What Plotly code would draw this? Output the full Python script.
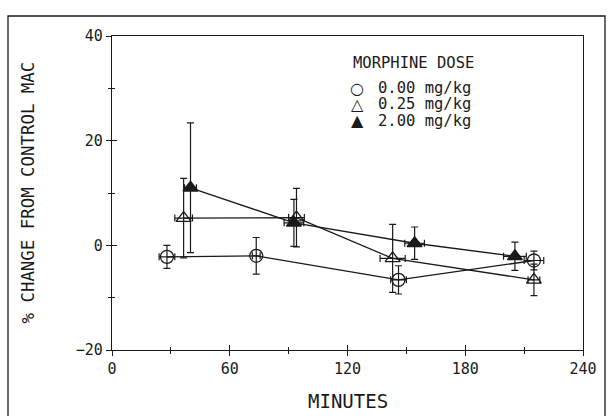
import plotly.graph_objects as go

# ---- data ----
minutes_0 = [28.0, 73.5, 146.0, 215.0]
mac_0 = [-2.2, -2.0, -6.6, -2.9]
sdy_0 = [2.2, 3.5, 2.7, 1.8]
sdx_0 = [4.0, 2.0, 4.0, 5.0]

minutes_025 = [36.5, 94.0, 143.0, 215.0]
mac_025 = [5.2, 5.3, -2.5, -6.6]
sdy_025 = [7.6, 5.6, 6.5, 3.0]
sdx_025 = [4.5, 4.0, 6.4, 3.0]

minutes_2 = [40.0, 92.7, 154.2, 205.3]
mac_2 = [11.0, 4.3, 0.4, -2.1]
sdy_2 = [12.4, 4.5, 3.1, 2.7]
sdx_2 = [3.0, 5.0, 5.0, 5.8]

legend_title = "MORPHINE DOSE"
legend_labels = ["0.00 mg/kg", "0.25 mg/kg", "2.00 mg/kg"]
legend_glyphs = ["\u25CB", "\u25B3", "\u25B2"]

x_ticks = [0, 60, 120, 180, 240]
y_ticks = [-20, 0, 20, 40]

INK = "#1a1a1a"
FONT = "DejaVu Sans Mono"

def series(x, y, ex, ey, symbol, size):
    return go.Scatter(
        x=x, y=y, mode="lines+markers",
        line=dict(color=INK, width=1.3),
        marker=dict(symbol=symbol, size=size, color=INK,
                    line=dict(color=INK, width=1.3)),
        error_y=dict(type="data", array=ey, color=INK, thickness=1.2, width=3.5),
        error_x=dict(type="data", array=ex, color=INK, thickness=1.2, width=3.5),
        showlegend=False, hoverinfo="skip",
    )

fig = go.Figure()
fig.add_trace(series(minutes_0, mac_0, sdx_0, sdy_0, "circle-open", 13))
fig.add_trace(series(minutes_025, mac_025, sdx_025, sdy_025, "triangle-up-open", 13))
fig.add_trace(series(minutes_2, mac_2, sdx_2, sdy_2, "triangle-up", 13))
# empty trace so the overlay axes (inner half of crossing ticks) are drawn
fig.add_trace(go.Scatter(x=[], y=[], xaxis="x2", yaxis="y2", showlegend=False))

axis_common = dict(showgrid=False, zeroline=False, color=INK)
fig.update_layout(
    width=608, height=416,
    margin=dict(l=112, r=25, t=36, b=66),
    paper_bgcolor="white", plot_bgcolor="white",
    font=dict(family=FONT, color=INK, size=15),
    xaxis=dict(range=[0, 240], tickvals=x_ticks, ticks="outside", ticklen=5,
               tickwidth=1.2, tickcolor=INK, showline=True, linewidth=1.3,
               linecolor=INK, mirror=True,
               minor=dict(dtick=30, tick0=0, ticks="outside", ticklen=3,
                          tickwidth=1, tickcolor=INK),
               tickfont=dict(family=FONT, size=15), **axis_common),
    yaxis=dict(range=[-20, 40], tickvals=y_ticks, ticks="outside", ticklen=5,
               tickwidth=1.2, tickcolor=INK, showline=True, linewidth=1.3,
               linecolor=INK, mirror=True,
               minor=dict(dtick=10, tick0=0, ticks="outside", ticklen=3,
                          tickwidth=1, tickcolor=INK),
               tickfont=dict(family=FONT, size=15), **axis_common),
    xaxis2=dict(overlaying="x", anchor="y2", range=[0, 240], tickvals=x_ticks,
                ticks="inside", ticklen=5, tickwidth=1.2, tickcolor=INK,
                showticklabels=False, showline=False,
                minor=dict(dtick=30, tick0=0, ticks="inside", ticklen=3,
                           tickwidth=1, tickcolor=INK), **axis_common),
    yaxis2=dict(overlaying="y", anchor="x2", range=[-20, 40], tickvals=y_ticks,
                ticks="inside", ticklen=5, tickwidth=1.2, tickcolor=INK,
                showticklabels=False, showline=False,
                minor=dict(dtick=10, tick0=0, ticks="inside", ticklen=3,
                           tickwidth=1, tickcolor=INK), **axis_common),
)

# outer frame of the figure
fig.add_shape(type="rect", xref="paper", yref="paper",
              x0=-0.2208, x1=1.0467, y0=-0.5, y1=1.0637,
              line=dict(color=INK, width=1.3))

annotations = [
    dict(text="% CHANGE FROM CONTROL MAC", x=-0.1794, y=0.5, textangle=-90,
         xanchor="center", yanchor="middle", font=dict(size=17.4)),
    dict(text="MINUTES", x=0.5, y=-0.1615, xanchor="center", yanchor="middle",
         font=dict(size=19)),
    dict(text=legend_title, x=0.5074, y=0.9146, xanchor="left",
         yanchor="middle", font=dict(size=15.5)),
]
row_y = [0.8334, 0.7825, 0.7303]
for glyph, label, yy in zip(legend_glyphs, legend_labels, row_y):
    annotations.append(dict(text=glyph, x=0.5212, y=yy, xanchor="center",
                            yanchor="middle",
                            font=dict(family="DejaVu Sans", size=16)))
    annotations.append(dict(text=label, x=0.5605, y=yy, xanchor="left",
                            yanchor="middle", font=dict(size=15.5)))
for a in annotations:
    a.update(xref="paper", yref="paper", showarrow=False)
fig.update_layout(annotations=annotations)

fig.write_html("out.html")
